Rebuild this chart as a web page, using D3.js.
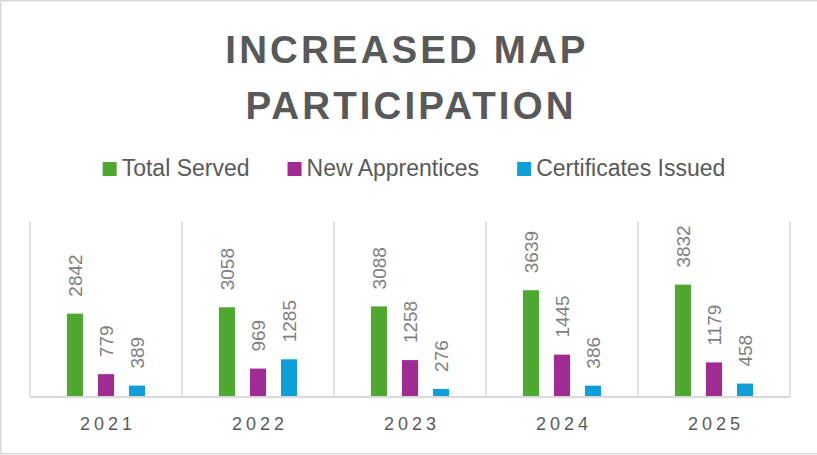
<!DOCTYPE html>
<html>
<head>
<meta charset="utf-8">
<script src="https://cdn.jsdelivr.net/npm/d3@7"></script>
<style>
  html, body { margin: 0; padding: 0; background: #fff; }
  svg { display: block; }
  text { font-family: "Liberation Sans", Arial, sans-serif; }
</style>
</head>
<body>
<svg id="chart" width="817" height="455"></svg>
<script>
const titleLines = ["INCREASED MAP", "PARTICIPATION"];
const years = ["2021", "2022", "2023", "2024", "2025"];
const seriesNames = ["Total Served", "New Apprentices", "Certificates Issued"];
const totalServed = [2842, 3058, 3088, 3639, 3832];
const newApprentices = [779, 969, 1258, 1445, 1179];
const certificatesIssued = [389, 1285, 276, 386, 458];
const seriesColors = ["#4EA72E", "#A02B93", "#0F9ED5"];
const yMax = 6000;

const seriesValues = [totalServed, newApprentices, certificatesIssued];
const data = years.map((y, i) => ({
  year: y,
  values: seriesNames.map((s, j) => ({ series: s, value: seriesValues[j][i], color: seriesColors[j] }))
}));

const svg = d3.select("#chart");
const W = 817, H = 455;

// border
svg.append("rect")
  .attr("x", 0.75).attr("y", 0.75)
  .attr("width", W + 2).attr("height", 453)
  .attr("fill", "#fff").attr("stroke", "#d9d9d9").attr("stroke-width", 1.5);

// title
const title = svg.append("text")
  .attr("text-anchor", "middle")
  .attr("font-weight", "bold")
  .attr("font-size", 38.5)
  .attr("letter-spacing", 3.1)
  .attr("fill", "#595959");
titleLines.forEach((t, i) => {
  title.append("tspan").attr("x", i === 0 ? 407 : 411).attr("y", i === 0 ? 63 : 119).text(t);
});

// plot geometry
const plot = { left: 30, right: 790, top: 221, bottom: 397 };

const x0 = d3.scaleBand().domain(years).range([plot.left, plot.right]).paddingInner(0).paddingOuter(0);
const x1 = d3.scaleBand().domain(seriesNames).range([0, x0.bandwidth()]).paddingInner(0.48).paddingOuter(1.19);
const y = d3.scaleLinear().domain([0, yMax]).range([plot.bottom, plot.top]);

// vertical category dividers
const dividers = years.map(yr => x0(yr)).concat([plot.right]);
svg.append("g").selectAll("line").data(dividers).join("line")
  .attr("x1", d => d).attr("x2", d => d)
  .attr("y1", plot.top).attr("y2", plot.bottom)
  .attr("stroke", "#d9d9d9").attr("stroke-width", 1.5);

// bars
const groups = svg.append("g").selectAll("g").data(data).join("g")
  .attr("transform", d => `translate(${x0(d.year)},0)`);

groups.selectAll("rect").data(d => d.values).join("rect")
  .attr("x", d => x1(d.series))
  .attr("width", x1.bandwidth())
  .attr("y", d => y(d.value))
  .attr("height", d => y(0) - y(d.value))
  .attr("fill", d => d.color);

// data labels (rotated)
groups.selectAll("text").data(d => d.values).join("text")
  .attr("transform", d => `translate(${x1(d.series) + x1.bandwidth() / 2 + 7},${y(d.value) - 17}) rotate(-90)`)
  .attr("text-anchor", "start")
  .attr("font-size", 19)
  .attr("fill", "#7f7f7f")
  .text(d => d.value);

// baseline axis
svg.append("line")
  .attr("x1", plot.left).attr("x2", plot.right)
  .attr("y1", plot.bottom).attr("y2", plot.bottom)
  .attr("stroke", "#d9d9d9").attr("stroke-width", 2);

// category labels
svg.append("g").selectAll("text").data(years).join("text")
  .attr("x", d => x0(d) + x0.bandwidth() / 2 + 2)
  .attr("y", 430)
  .attr("text-anchor", "middle")
  .attr("font-size", 18)
  .attr("letter-spacing", 4)
  .attr("fill", "#595959")
  .text(d => d);

// legend
const legend = svg.append("g");
const items = legend.selectAll("g").data(seriesNames).join("g");
items.append("rect")
  .attr("width", 14).attr("height", 14)
  .attr("y", 162)
  .attr("fill", (d, i) => seriesColors[i]);
items.append("text")
  .attr("x", 19).attr("y", 176)
  .attr("font-size", 23)
  .attr("fill", "#595959")
  .text(d => d);
let widths = [];
items.each(function() { widths.push(19 + d3.select(this).select("text").node().getComputedTextLength()); });
const gap = 38;
const total = d3.sum(widths) + gap * (widths.length - 1);
let cx = 414 - total / 2;
items.attr("transform", (d, i) => {
  const t = `translate(${cx},0)`;
  cx += widths[i] + gap;
  return t;
});
</script>
</body>
</html>
